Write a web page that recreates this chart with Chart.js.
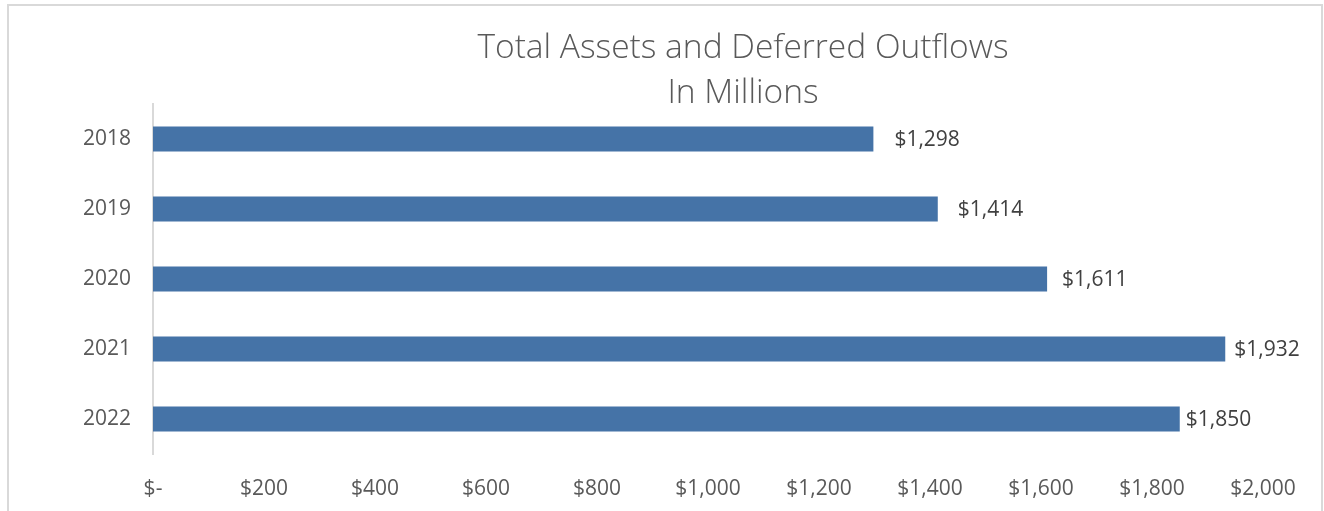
<!DOCTYPE html>
<html>
<head>
<meta charset="utf-8">
<script src="https://cdn.jsdelivr.net/npm/chart.js@4.4.1/dist/chart.umd.min.js"></script>
<style>
  html, body { margin: 0; padding: 0; background: #fff; overflow: hidden; }
  #frame { position: absolute; left: 7px; top: 4px; width: 1312px; height: 520px; border: 2px solid #d9d9d9; }
  #wrap { position: absolute; left: 0; top: 0; width: 1324px; height: 511px; }
</style>
</head>
<body>
<div id="frame"></div>
<div id="wrap"><canvas id="myChart"></canvas></div>
<script>
const years = ['2018', '2019', '2020', '2021', '2022'];
const assets = [1298, 1414, 1611, 1932, 1850];
const tickValues = [0, 200, 400, 600, 800, 1000, 1200, 1400, 1600, 1800, 2000];
const titleLines = ['Total Assets and Deferred Outflows', 'In Millions'];

// labels in the original sit at slightly different distances from the bar ends
const labelGaps = [21, 20, 15, 9, 6];

const FONT = "'Open Sans', 'Noto Sans', sans-serif";
const money = v => v === 0 ? '$-' : '$' + v.toLocaleString('en-US');

// value labels right of each bar
const barLabels = {
  id: 'barLabels',
  afterDatasetsDraw(chart) {
    const ctx = chart.ctx;
    const meta = chart.getDatasetMeta(0);
    ctx.save();
    ctx.font = '21px ' + FONT;
    ctx.fillStyle = '#404040';
    ctx.textAlign = 'left';
    ctx.textBaseline = 'middle';
    meta.data.forEach((bar, i) => {
      ctx.fillText(money(assets[i]), bar.x + labelGaps[i], bar.y + 1);
    });
    ctx.restore();
  }
};

// two line title, centred like the original
const bigTitle = {
  id: 'bigTitle',
  afterDraw(chart) {
    const ctx = chart.ctx;
    ctx.save();
    ctx.font = '300 33.5px ' + FONT;
    ctx.fillStyle = '#595959';
    ctx.textAlign = 'center';
    ctx.textBaseline = 'middle';
    ctx.fillText(titleLines[0], 743, 48);
    ctx.fillText(titleLines[1], 743, 93);
    ctx.restore();
  }
};

const ctx = document.getElementById('myChart');
new Chart(ctx, {
  type: 'bar',
  data: {
    labels: years,
    datasets: [{
      data: assets,
      backgroundColor: '#4573a7',
      barPercentage: 0.36,
      categoryPercentage: 1
    }]
  },
  options: {
    indexAxis: 'y',
    responsive: true,
    maintainAspectRatio: false,
    animation: false,
    layout: { padding: { left: 0, right: 61, top: 104, bottom: 0 } },
    plugins: {
      legend: { display: false },
      title: { display: false },
      tooltip: { enabled: false }
    },
    scales: {
      x: {
        min: 0,
        max: 2000,
        afterBuildTicks: s => { s.ticks = tickValues.map(v => ({ value: v })); },
        afterFit: s => { s.height = 57; },
        grid: { display: false, drawTicks: false },
        border: { display: false },
        ticks: {
          padding: 22,
          color: '#595959',
          font: { family: FONT, size: 21 },
          maxRotation: 0,
          autoSkip: false,
          callback: v => money(v)
        }
      },
      y: {
        afterFit: s => { s.width = 153; },
        grid: { display: false, drawTicks: false },
        border: { display: true, color: '#d9d9d9', width: 2 },
        ticks: {
          padding: 22,
          color: '#595959',
          font: { family: FONT, size: 21 }
        }
      }
    }
  },
  plugins: [barLabels, bigTitle]
});
</script>
</body>
</html>
